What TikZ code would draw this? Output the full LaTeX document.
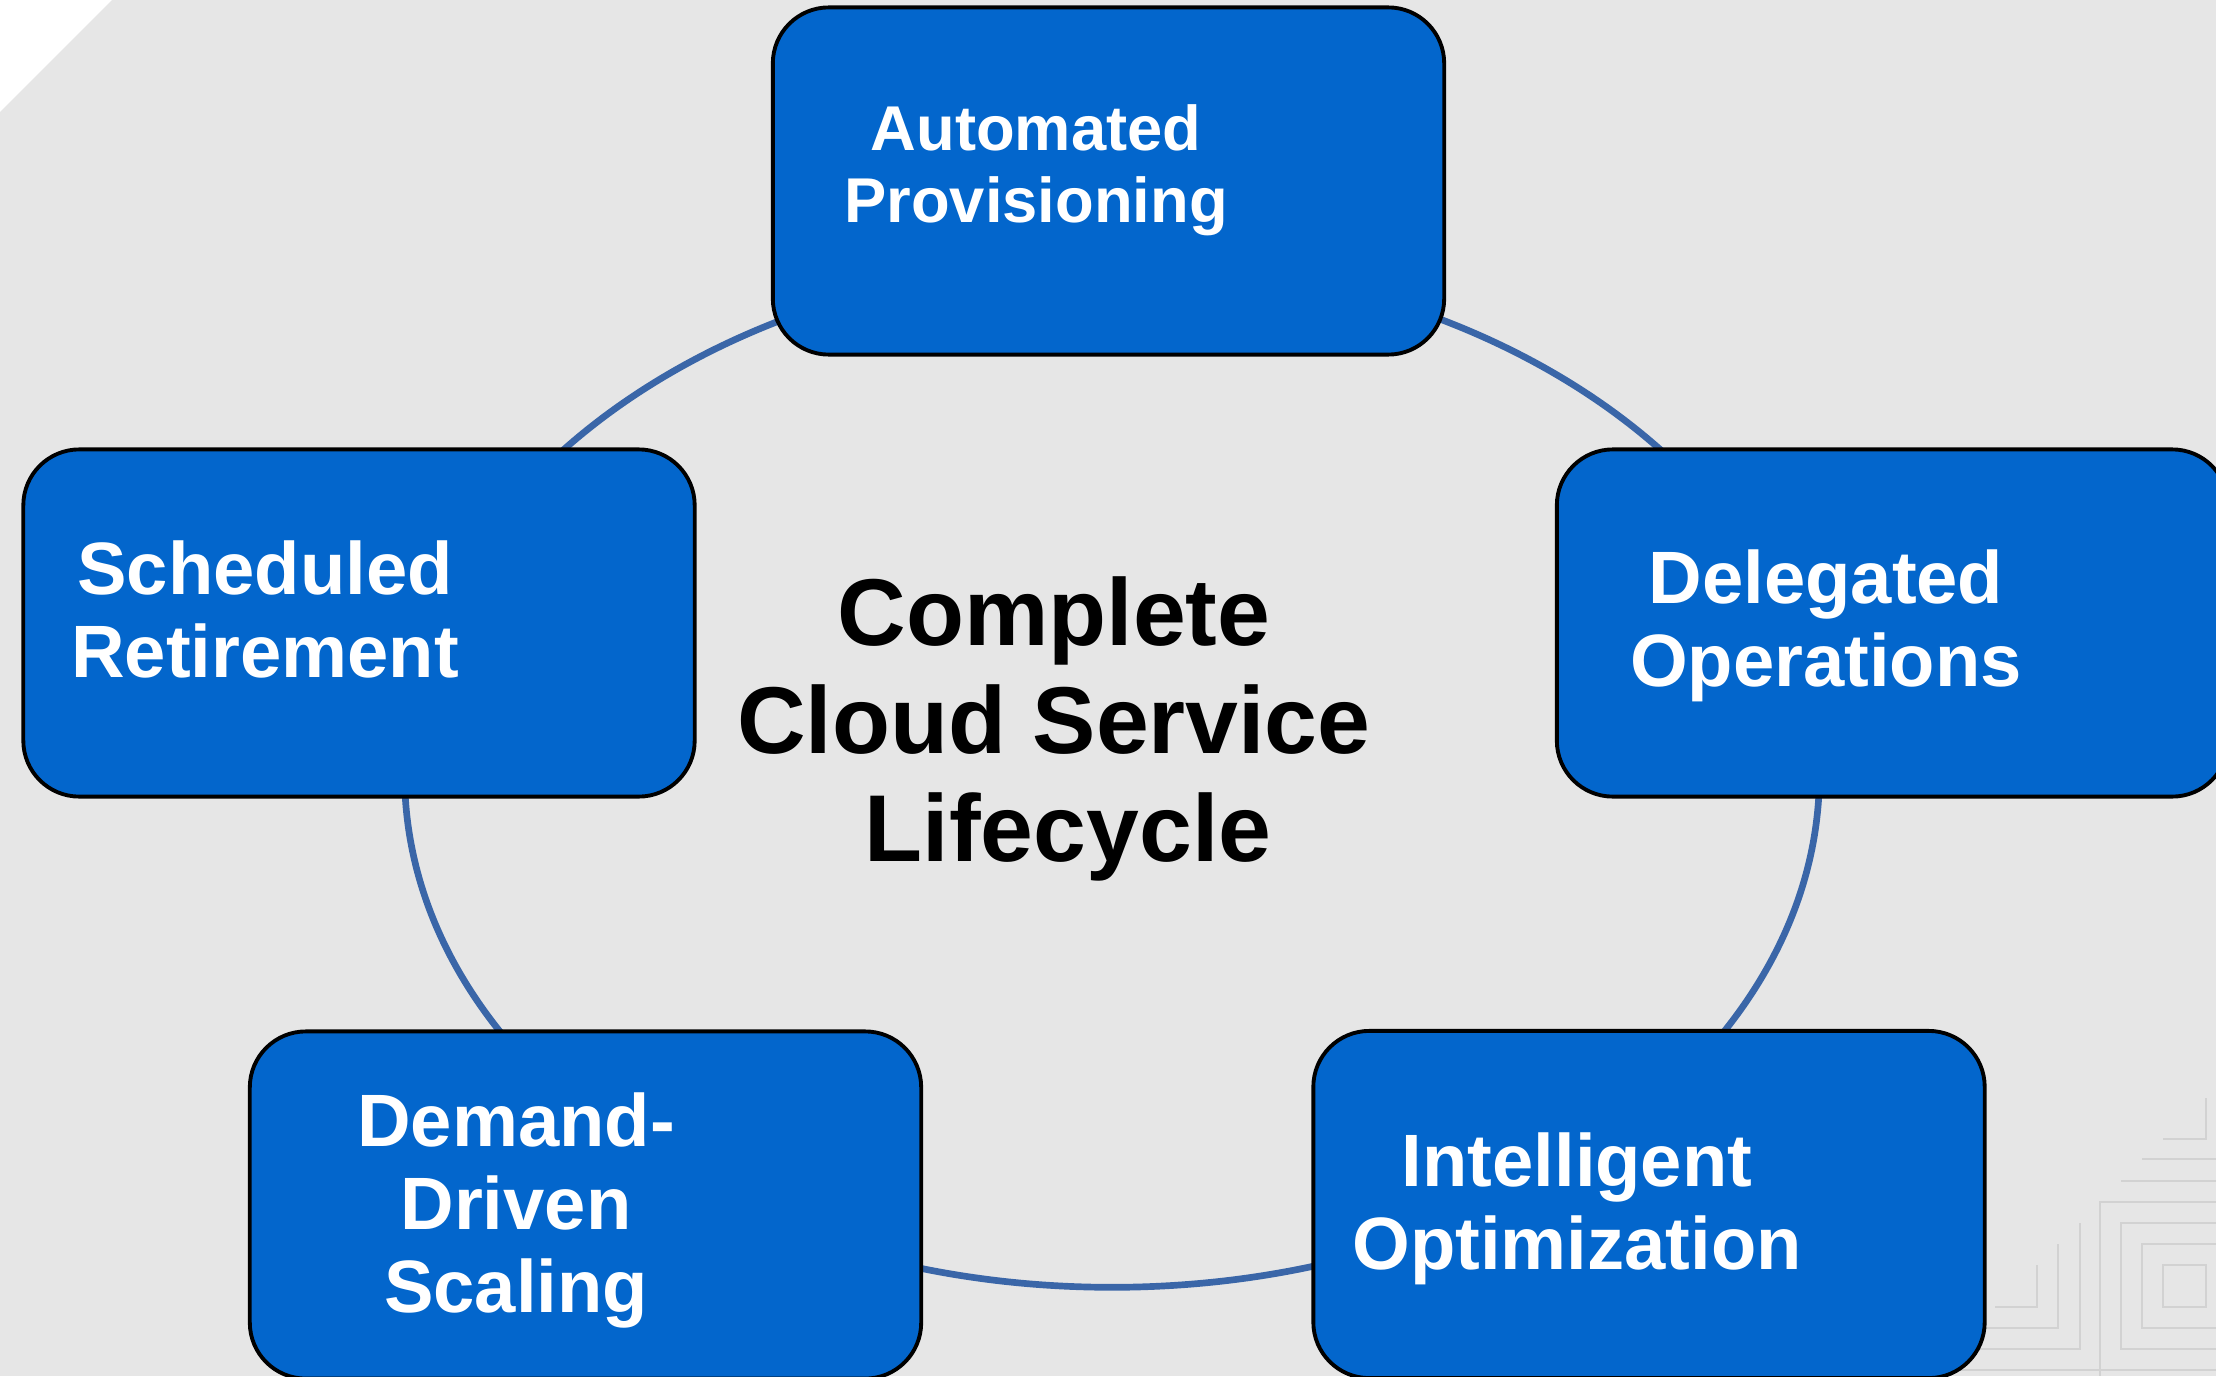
\documentclass[tikz,border=0pt]{standalone}
\usepackage{fontspec}
\setmainfont{Liberation Sans}
\definecolor{bggray}{HTML}{E6E6E6}
\definecolor{boxblue}{HTML}{0366CC}
\definecolor{ringblue}{HTML}{3A66A8}
\definecolor{patgray}{HTML}{D2D2D2}
\begin{document}
\begin{tikzpicture}[x=0.01cm,y=-0.01cm,
  stagebox/.style={draw=black, line width=1.1pt, fill=boxblue, rounded corners=0.56cm,
    minimum width=6.71cm, minimum height=3.47cm, inner sep=0pt, rectangle},
  stagetext/.style={text=white, font=\bfseries\fontsize{21.1pt}{23.6pt}\selectfont,
    align=center, anchor=base, inner sep=0pt},
  smalltext/.style={stagetext, font=\bfseries\fontsize{18pt}{20.2pt}\selectfont},
  titletext/.style={text=black, font=\bfseries\fontsize{27pt}{30.6pt}\selectfont,
    align=center, anchor=base, inner sep=0pt},
  ring/.style={draw=ringblue, line width=1.9pt},
  pat/.style={draw=patgray, line width=0.6pt}]
\useasboundingbox (0,0) rectangle (2216,1376);
\clip (0,0) rectangle (2216,1376);
% background
\fill[bggray] (0,0) rectangle (2216,1376);
\fill[white] (0,0) -- (112,0) -- (0,112) -- cycle;
% decorative pattern
\draw[pat] (2206,1098) -- (2206,1139) -- (2163,1139);
\draw[pat] (2142,1159) -- (2216,1159);
\draw[pat] (2121,1181) -- (2216,1181);
\draw[pat] (2216,1202) -- (2100,1202) -- (2100,1376);
\draw[pat] (2216,1223) -- (2121,1223) -- (2121,1349) -- (2216,1349);
\draw[pat] (2216,1244) -- (2142,1244) -- (2142,1328) -- (2216,1328);
\draw[pat] (2163,1265) rectangle (2206,1307);
\draw[pat] (2037,1265) -- (2037,1307) -- (1995,1307);
\draw[pat] (2058,1244) -- (2058,1328) -- (1960,1328);
\draw[pat] (2080,1223) -- (2080,1349) -- (1960,1349);
\draw[pat] (1960,1370) -- (2216,1370);
% ring
\draw[ring] (1112,774) ellipse [x radius=7.07cm, y radius=5.13cm];
% boxes
\node[stagebox] (prov) at (1108.5,181) {};
\node[stagebox] (deleg) at (1892.5,623) {};
\node[stagebox] (retire) at (359,623) {};
\node[stagebox] (scale) at (585.5,1205) {};
\node[stagebox] (optim) at (1649,1204.5) {};
% texts (anchor = baseline of last line)
\node[smalltext] (provt) at (1036,222) {Automated\\Provisioning};
\node[stagetext] (delegt) at (1826,686) {Delegated\\Operations};
\node[stagetext] (retiret) at (265,677) {Scheduled\\Retirement};
\node[stagetext] (scalet) at (516,1312) {Demand-\\Driven\\Scaling};
\node[stagetext] (optimt) at (1577,1269) {Intelligent\\Optimization};
\node[titletext] (title) at (1054,861) {Complete\\Cloud Service\\\hspace*{0.28cm}Lifecycle};
\end{tikzpicture}
\end{document}
